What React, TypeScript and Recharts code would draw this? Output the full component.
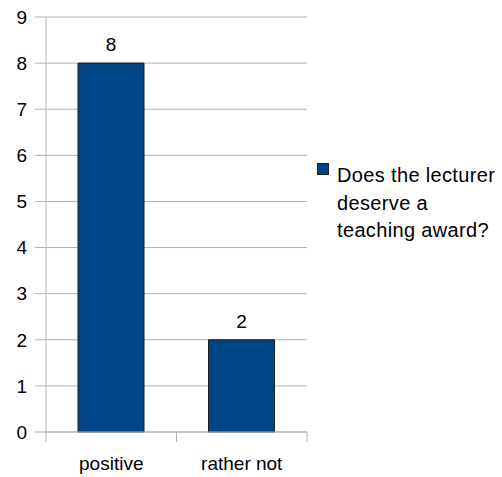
import React from 'react';
import { BarChart, Bar, XAxis, YAxis, CartesianGrid, LabelList, Legend } from 'recharts';

const categories = ['positive', 'rather not'];
const values = [8, 2];
const yTicks = [0, 1, 2, 3, 4, 5, 6, 7, 8, 9];
const seriesName = 'Does the lecturer deserve a teaching award?';
const legendLines = ['Does the lecturer', 'deserve a', 'teaching award?'];

const data = categories.map((c, i) => ({ category: c, value: values[i] }));

const FONT = '"Liberation Sans", Arial, Helvetica, sans-serif';
const GRID = '#b3b3b3';
const BAR = '#004586';
const FS = 19;
const X_TICK_SIZE = 10;
const X_TICK_MARGIN = 15;
const LEGEND_W = 185;

function XTick(props: any) {
  const { x, y, payload, index, visibleTicksCount, width } = props;
  const band = width / visibleTicksCount;
  const axisY = y - X_TICK_SIZE - X_TICK_MARGIN;
  const left = x - band / 2;
  const right = x + band / 2;
  return (
    <g>
      <line x1={left} x2={left} y1={axisY} y2={axisY + X_TICK_SIZE} stroke={GRID} />
      {index === visibleTicksCount - 1 && (
        <line x1={right} x2={right} y1={axisY} y2={axisY + X_TICK_SIZE} stroke={GRID} />
      )}
      <text x={x} y={y} dy="0.71em" textAnchor="middle" fill="#000" fontSize={FS} fontFamily={FONT}>
        {payload.value}
      </text>
    </g>
  );
}

function LegendContent() {
  return (
    <div
      style={{
        position: 'relative',
        fontFamily: FONT,
        fontSize: 20,
        letterSpacing: '0.35px',
        color: '#000',
        lineHeight: '27.5px',
        textAlign: 'left',
      }}
    >
      <div
        style={{
          position: 'absolute',
          left: 2,
          top: 1,
          width: 10,
          height: 10,
          background: BAR,
          border: '1px solid #1c1c1c',
        }}
      />
      <div style={{ marginLeft: 22, whiteSpace: 'nowrap' }} title={seriesName}>
        {legendLines.map((l) => (
          <div key={l}>{l}</div>
        ))}
      </div>
    </div>
  );
}

export default function App() {
  return (
    <div style={{ position: 'absolute', left: 0, top: 0, width: 502, height: 477, background: '#fff' }}>
      <BarChart
        width={502}
        height={477}
        data={data}
        margin={{ top: 17, right: 195 - LEGEND_W, left: 0, bottom: 0 }}
        style={{ fontFamily: FONT }}
      >
        <CartesianGrid vertical={false} stroke={GRID} />
        <XAxis
          dataKey="category"
          height={45}
          axisLine={{ stroke: GRID }}
          tickLine={false}
          tickSize={X_TICK_SIZE}
          tickMargin={X_TICK_MARGIN}
          tick={<XTick />}
          interval={0}
        />
        <YAxis
          width={46}
          domain={[0, 9]}
          ticks={yTicks}
          interval={0}
          axisLine={{ stroke: GRID }}
          tickLine={{ stroke: GRID }}
          tickSize={11}
          tickMargin={8}
          tick={{ fill: '#000', fontSize: FS, fontFamily: FONT }}
        />
        <Legend
          layout="vertical"
          align="right"
          verticalAlign="middle"
          content={<LegendContent />}
          wrapperStyle={{ position: 'absolute', left: 315, top: 162, width: LEGEND_W }}
        />
        <Bar
          dataKey="value"
          name={seriesName}
          fill={BAR}
          stroke="#1c1c1c"
          strokeWidth={1}
          barSize={66}
          isAnimationActive={false}
        >
          <LabelList dataKey="value" position="top" offset={12} fill="#000" fontSize={FS} fontFamily={FONT} />
        </Bar>
      </BarChart>
    </div>
  );
}
